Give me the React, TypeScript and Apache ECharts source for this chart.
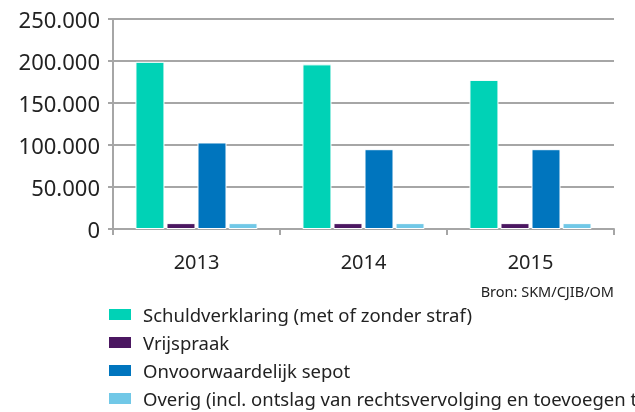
import React, { useEffect, useRef } from "react";
import * as echarts from "echarts";

const years = ["2013", "2014", "2015"];
const seriesNames = [
  "Schuldverklaring (met of zonder straf)",
  "Vrijspraak",
  "Onvoorwaardelijk sepot",
  "Overig (incl. ontslag van rechtsvervolging en toevoegen tz",
];
const schuldverklaring = [199000, 196000, 177500];
const vrijspraak = [7000, 7000, 7000];
const sepot = [103000, 95000, 95000];
const overig = [7000, 7000, 7000];
const colors = ["#00d2b6", "#4b1761", "#0075be", "#71c8e7"];
const source = "Bron: SKM/CJIB/OM";

const FONT = "Noto Sans";

function fmt(v: number) {
  return String(v).replace(/\B(?=(\d{3})+(?!\d))/g, ".");
}

export default function App() {
  const ref = useRef<HTMLDivElement>(null);
  useEffect(() => {
    const chart = echarts.init(ref.current!, null, { renderer: "svg" });
    const data = [schuldverklaring, vrijspraak, sepot, overig];
    chart.setOption({
      animation: false,
      textStyle: { fontFamily: FONT },
      grid: { left: 113, right: 21, top: 19, bottom: 183 },
      legend: {
        orient: "vertical",
        left: 107,
        top: 305,
        padding: 0,
        itemWidth: 24,
        itemHeight: 13,
        itemGap: 9,
        icon: "rect",
        textStyle: { fontSize: 18.5, color: "#222", fontFamily: FONT, padding: [0, 0, 0, 6] },
        data: seriesNames,
      },
      graphic: [
        {
          type: "text",
          right: 21,
          top: 283,
          style: { text: source, fontSize: 14.5, fill: "#222", fontFamily: FONT },
        },
      ],
      xAxis: {
        type: "category",
        data: years,
        axisLine: { lineStyle: { color: "#a6a6a6", width: 2 } },
        axisTick: { show: true, length: 6, lineStyle: { color: "#a6a6a6", width: 2 } },
        axisLabel: { fontSize: 20, color: "#222", margin: 22, fontFamily: FONT },
      },
      yAxis: {
        type: "value",
        min: 0,
        max: 250000,
        interval: 50000,
        axisLine: { show: true, lineStyle: { color: "#a6a6a6", width: 2 } },
        axisTick: { show: true, length: 5, lineStyle: { color: "#a6a6a6", width: 2 } },
        splitLine: { lineStyle: { color: "#a6a6a6", width: 2 } },
        axisLabel: { fontSize: 22, color: "#222", margin: 13, formatter: (v: number) => fmt(v), fontFamily: FONT },
      },
      series: seriesNames.map((name, i) => ({
        name,
        type: "bar",
        data: data[i],
        barWidth: 29,
        barGap: "7%",
        itemStyle: { color: colors[i], borderColor: "#fff", borderWidth: 1 },
      })),
    });
    return () => chart.dispose();
  }, []);
  return <div ref={ref} style={{ position: "fixed", left: 0, top: 0, width: 635, height: 412 }} />;
}
